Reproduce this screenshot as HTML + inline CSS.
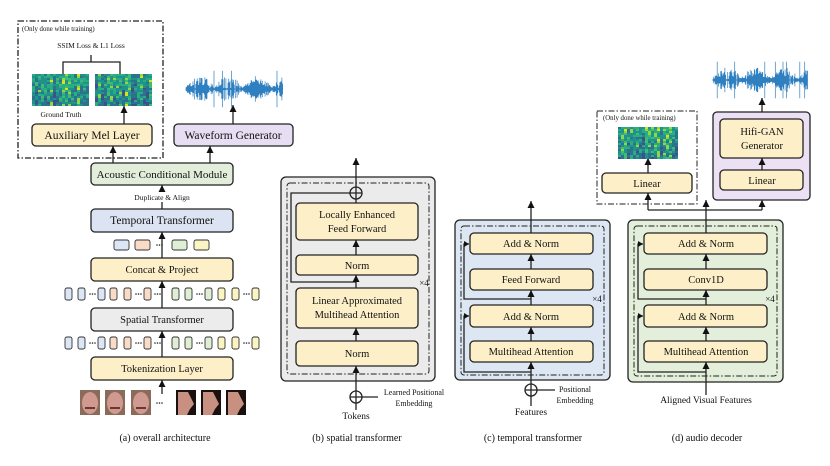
<!DOCTYPE html>
<html><head><meta charset="utf-8"><style>
html,body{margin:0;padding:0;background:#fff;width:830px;height:466px;overflow:hidden}
text{font-family:"Liberation Serif",serif;fill:#111}
</style></head><body>
<svg id="s" width="830" height="466" viewBox="0 0 830 466" xmlns="http://www.w3.org/2000/svg">
<defs>
<marker id="a" markerWidth="8" markerHeight="8" refX="7" refY="3.5" orient="auto" markerUnits="userSpaceOnUse">
<path d="M0,0 L7,3.5 L0,7 Z" fill="#111"/></marker>
<marker id="s2" markerWidth="6" markerHeight="6" refX="5" refY="3" orient="auto" markerUnits="userSpaceOnUse">
<path d="M0,0 L5,3 L0,6 Z" fill="#111"/></marker>
</defs>
<g stroke="#222" stroke-width="1.3" fill="none">
<rect x="18" y="21" width="145" height="137" stroke-dasharray="6,2,1.5,2"/>
<rect x="32" y="124" width="120" height="22" rx="4" fill="#fdf0c8"/>
<rect x="174" y="124" width="119" height="22" rx="4" fill="#e8def3"/>
<rect x="91" y="163" width="142" height="22" rx="4" fill="#e2eed9"/>
<rect x="91" y="209" width="142" height="23" rx="4" fill="#dce4f3"/>
<rect x="91" y="258" width="142" height="23" rx="4" fill="#fdf0c8"/>
<rect x="91" y="308" width="142" height="23" rx="4" fill="#ececec"/>
<rect x="91" y="357" width="142" height="23" rx="4" fill="#fdf0c8"/>
<path d="M63,74 V62 H120 V74 M91,62 V55"/>
<line x1="124" y1="124" x2="124" y2="106" marker-end="url(#a)"/>
<line x1="233" y1="124" x2="233" y2="105" marker-end="url(#a)"/>
<line x1="113" y1="163" x2="113" y2="146" marker-end="url(#a)"/>
<line x1="210" y1="163" x2="210" y2="146" marker-end="url(#a)"/>
<line x1="162" y1="209" x2="162" y2="202"/>
<line x1="162" y1="192" x2="162" y2="185" marker-end="url(#a)"/>
<line x1="162" y1="258" x2="162" y2="232" marker-end="url(#a)"/>
<line x1="162" y1="308" x2="162" y2="281" marker-end="url(#a)"/>
<line x1="162" y1="357" x2="162" y2="331" marker-end="url(#a)"/>
<line x1="162" y1="394" x2="162" y2="380" marker-end="url(#a)"/>
<rect x="281" y="177" width="154" height="204" rx="5" fill="#ebebeb"/>
<rect x="287" y="183" width="142" height="191" rx="3" stroke-width="1" stroke-dasharray="6,2,1.5,2"/>
<rect x="296" y="203" width="122" height="37" rx="4" fill="#fdf0c8"/>
<rect x="296" y="255" width="122" height="20" rx="4" fill="#fdf0c8"/>
<rect x="296" y="288" width="122" height="40" rx="4" fill="#fdf0c8"/>
<rect x="296" y="341" width="122" height="25" rx="4" fill="#fdf0c8"/>
<circle cx="356" cy="193" r="6"/><path d="M350,193 H362 M356,187 V199"/>
<line x1="356" y1="187" x2="356" y2="158" marker-end="url(#a)"/>
<line x1="356" y1="203" x2="356" y2="199"/>
<path d="M350,193 H291 V282 H356"/>
<line x1="356" y1="255" x2="356" y2="240" marker-end="url(#a)"/>
<line x1="356" y1="288" x2="356" y2="275" marker-end="url(#a)"/>
<line x1="356" y1="341" x2="356" y2="328" marker-end="url(#a)"/>
<line x1="356" y1="391" x2="356" y2="366" marker-end="url(#a)"/>
<circle cx="356" cy="397" r="6"/><path d="M350,397 H362 M356,391 V403 M362,397 H378"/>
<line x1="356" y1="410" x2="356" y2="403"/>
<rect x="455" y="220" width="155" height="160" rx="5" fill="#dde7f3"/>
<rect x="461" y="226" width="143" height="149" rx="3" stroke-width="1" stroke-dasharray="6,2,1.5,2"/>
<rect x="470" y="233" width="123" height="21" rx="4" fill="#fdf0c8"/>
<rect x="470" y="269" width="123" height="21" rx="4" fill="#fdf0c8"/>
<rect x="470" y="305" width="123" height="22" rx="4" fill="#fdf0c8"/>
<rect x="470" y="341" width="123" height="21" rx="4" fill="#fdf0c8"/>
<line x1="531" y1="233" x2="531" y2="201" marker-end="url(#a)"/>
<line x1="531" y1="269" x2="531" y2="254" marker-end="url(#a)"/>
<line x1="531" y1="305" x2="531" y2="290" marker-end="url(#a)"/>
<line x1="531" y1="341" x2="531" y2="327" marker-end="url(#a)"/>
<line x1="531" y1="384" x2="531" y2="362" marker-end="url(#a)"/>
<path d="M531,299 H464 V244 H469" marker-end="url(#s2)"/>
<path d="M531,372 H464 V316 H469" marker-end="url(#s2)"/>
<circle cx="531" cy="390" r="6"/><path d="M525,390 H537 M531,384 V396 M537,390 H555"/>
<line x1="531" y1="406" x2="531" y2="396"/>
<rect x="628" y="220" width="155" height="162" rx="5" fill="#e3efdb"/>
<rect x="634" y="226" width="143" height="150" rx="3" stroke-width="1" stroke-dasharray="6,2,1.5,2"/>
<rect x="644" y="233" width="123" height="21" rx="4" fill="#fdf0c8"/>
<rect x="644" y="269" width="123" height="21" rx="4" fill="#fdf0c8"/>
<rect x="644" y="305" width="123" height="22" rx="4" fill="#fdf0c8"/>
<rect x="644" y="341" width="123" height="21" rx="4" fill="#fdf0c8"/>
<line x1="706" y1="233" x2="706" y2="200" marker-end="url(#a)"/>
<line x1="706" y1="269" x2="706" y2="254" marker-end="url(#a)"/>
<line x1="706" y1="305" x2="706" y2="290" marker-end="url(#a)"/>
<line x1="706" y1="341" x2="706" y2="327" marker-end="url(#a)"/>
<line x1="706" y1="395" x2="706" y2="362" marker-end="url(#a)"/>
<path d="M706,299 H638 V244 H643" marker-end="url(#s2)"/>
<path d="M706,372 H638 V316 H643" marker-end="url(#s2)"/>
<path d="M648,210 H762"/>
<line x1="648" y1="210" x2="648" y2="193" marker-end="url(#a)"/>
<line x1="762" y1="210" x2="762" y2="200" marker-end="url(#a)"/>
<rect x="597" y="111" width="100" height="93" stroke-width="1" stroke-dasharray="6,2,1.5,2"/>
<rect x="602" y="173" width="90" height="20" rx="4" fill="#fdf0c8"/>
<line x1="648" y1="173" x2="648" y2="158" marker-end="url(#a)"/>
<rect x="713" y="112" width="97" height="88" rx="4" fill="#ebe0f4"/>
<rect x="720" y="119" width="83" height="39" rx="4" fill="#fdf0c8"/>
<rect x="720" y="170" width="83" height="20" rx="4" fill="#fdf0c8"/>
<line x1="762" y1="170" x2="762" y2="158" marker-end="url(#a)"/>
<line x1="762" y1="112" x2="762" y2="98" marker-end="url(#a)"/>
</g>
<g id="dyn"></g>
<g font-size="11" text-anchor="middle">
<text x="92" y="139" font-size="11.5">Auxiliary Mel Layer</text>
<text x="233" y="139" font-size="11.5">Waveform Generator</text>
<text x="162" y="178">Acoustic Conditional Module</text>
<text x="162" y="224" font-size="11.5">Temporal Transformer</text>
<text x="162" y="273" font-size="10.5">Concat &amp; Project</text>
<text x="162" y="323" font-size="10.5">Spatial Transformer</text>
<text x="162" y="372" font-size="10.5">Tokenization Layer</text>
<text x="357" y="218" font-size="10.5">Locally Enhanced</text>
<text x="357" y="232" font-size="10.5">Feed Forward</text>
<text x="357" y="269" font-size="10.5">Norm</text>
<text x="357" y="304" font-size="10.5">Linear Approximated</text>
<text x="357" y="318" font-size="10.5">Multihead Attention</text>
<text x="357" y="357" font-size="10.5">Norm</text>
<text x="531" y="247" font-size="10.5">Add &amp; Norm</text>
<text x="531" y="283" font-size="10.5">Feed Forward</text>
<text x="531" y="320" font-size="10.5">Add &amp; Norm</text>
<text x="531" y="355" font-size="10.5">Multihead Attention</text>
<text x="706" y="247" font-size="10.5">Add &amp; Norm</text>
<text x="706" y="283" font-size="10.5">Conv1D</text>
<text x="706" y="320" font-size="10.5">Add &amp; Norm</text>
<text x="706" y="355" font-size="10.5">Multihead Attention</text>
<text x="647" y="187" font-size="10.5">Linear</text>
<text x="762" y="184" font-size="10.5">Linear</text>
<text x="762" y="135" font-size="10.5">Hifi-GAN</text>
<text x="762" y="149" font-size="10.5">Generator</text>
<text x="165" y="441" font-size="10">(a) overall architecture</text>
<text x="357" y="441" font-size="10">(b) spatial transformer</text>
<text x="533" y="441" font-size="10">(c) temporal transformer</text>
<text x="707" y="441" font-size="10">(d) audio decoder</text>
<text x="356" y="419" font-size="9.5">Tokens</text>
<text x="531" y="415" font-size="9.5">Features</text>
<text x="706" y="403" font-size="9.5">Aligned Visual Features</text>
<text x="414" y="395" font-size="8">Learned Positional</text>
<text x="414" y="406" font-size="8">Embedding</text>
<text x="575" y="392" font-size="8">Positional</text>
<text x="575" y="403" font-size="8">Embedding</text>
<text x="162" y="200" font-size="7.5">Duplicate &amp; Align</text>
<text x="91" y="48" font-size="7.5">SSIM Loss &amp; L1 Loss</text>
<text x="61" y="117" font-size="7.5">Ground Truth</text>
<text x="424" y="286" font-size="9">×4</text>
<text x="597" y="302" font-size="9">×4</text>
<text x="770" y="302" font-size="9">×4</text>
</g>
<g font-size="6.8" text-anchor="start">
<text x="22" y="31">(Only done while training)</text>
<text x="603" y="120">(Only done while training)</text>
</g>
</svg>
<script>
var NS="http://www.w3.org/2000/svg",g=document.getElementById("dyn");
function el(t,a){var e=document.createElementNS(NS,t);for(var k in a)e.setAttribute(k,a[k]);g.appendChild(e);return e;}
var seed=7;function r(){seed=(seed*9301+49297)%233280;return seed/233280;}
var vir=["#3b528b","#2c728e","#21918c","#28ae80","#3fbc73","#8fd744","#d8e219"];
function spec(x,y,w,h){el("rect",{x:x,y:y,width:w,height:h,fill:"#2c728e"});
 for(var i=0;i<w;i+=3){var col=r();for(var j=0;j<h;j+=2){var v=r()*0.5+col*0.5;var bias=j/h;var c=v*(0.7+0.3*Math.sin(j*0.5+i))+0.15-bias*0.2;
 var idx=Math.max(0,Math.min(6,Math.floor(c*7)));
 el("rect",{x:x+i,y:y+j,width:3,height:2,fill:vir[idx]});}}}
spec(32,74,57,32);spec(95,74,57,32);spec(618,127,58,31);
function wave(x0,x1,cy,amp){var d="";for(var x=x0;x<x1;x+=0.7){var env=Math.abs(Math.sin((x-x0)*0.11))*0.8+0.2;if(r()<0.08)env=0.1;var a=amp*env*(0.3+r()*0.7);if(r()<0.03)a=amp*1.4;d+="M"+x.toFixed(1)+","+(cy-a).toFixed(1)+"V"+(cy+a).toFixed(1);}
 el("path",{d:d,stroke:"#2f80c0","stroke-width":"0.7",fill:"none"});el("line",{x1:x0,y1:cy,x2:x1,y2:cy,stroke:"#2f80c0","stroke-width":"0.8"});}
wave(186,283,89,13);wave(713,808,80,13);
var cols={b:["#dce6f4","#5a7db0"],p:["#f9dcc8","#b07050"],g:["#dfeed5","#6a9a5a"],y:["#fbf5c4","#a09a40"]};
function box(x,y,w,h,c){el("rect",{x:x,y:y,width:w,height:h,rx:2,fill:cols[c][0],stroke:"#333","stroke-width":"0.9"});}
function dots(x,y){for(var k=0;k<3;k++)el("circle",{cx:x+k*2.5,cy:y,r:0.8,fill:"#222"});}
[["b",114],["p",135],["g",172],["y",194]].forEach(function(t){box(t[1],240,15,10,t[0]);});
dots(157,245);
function row(y){var L=[["b",65],["b",78],["d",88],["b",98],["p",110],["p",124],["d",134],["p",144],["D",156],["g",172],["g",185],["d",195],["g",205],["y",218],["y",232],["d",242],["y",252]];
 L.forEach(function(t){if(t[0]=="d")dots(t[1]+2,y+6);else if(t[0]=="D")dots(t[1]-1,y+6);else box(t[1],y,7,12,t[0]);});}
row(288);row(337);
var fx=[80,105,131,176,201,226];fx.forEach(function(x,i){var side=i>=3;
 el("rect",{x:x,y:390,width:20,height:25,fill:side?"#1a1010":"#8a6a5a"});
 if(side){el("path",{d:"M"+(x+2)+",392 H"+(x+12)+" L"+(x+18)+",404 L"+(x+14)+",409 L"+(x+11)+",415 H"+(x+2)+"Z",fill:"#c89080"});}
 else{el("ellipse",{cx:x+10,cy:403,rx:8,ry:11,fill:"#d09a90"});el("rect",{x:x+5,y:407,width:10,height:2,fill:"#6a3830"});}});
dots(157,403);
</script>
</body></html>
